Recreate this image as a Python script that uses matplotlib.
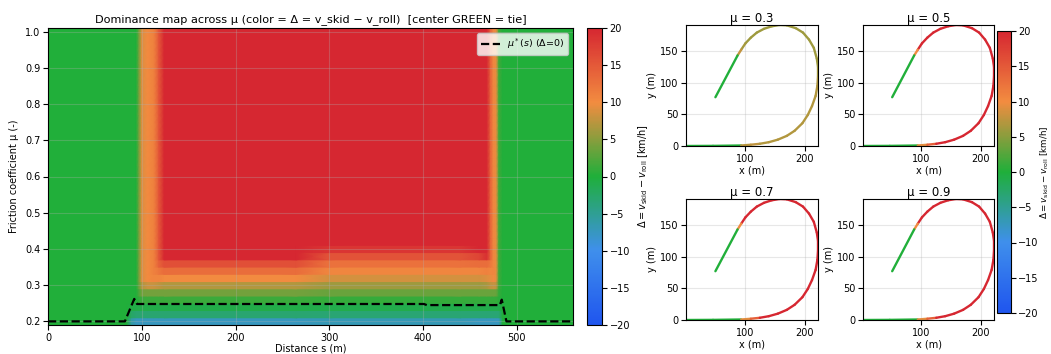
import numpy as np
import matplotlib
matplotlib.use("Agg")
import matplotlib.pyplot as plt
from matplotlib.colors import LinearSegmentedColormap, Normalize
from matplotlib.collections import LineCollection

# --- data --------------------------------------------------------------
# friction grid (rows of the map) and distance samples (columns)
mu_rows = np.round(np.arange(0.20, 1.001, 0.02), 2)
s_cols = [0, 84, 89, 94, 97, 100, 106, 113, 118, 124, 265, 300, 440, 460, 468, 472, 475, 478, 481, 485, 560]

# delta = v_skid - v_roll [km/h] for each mu row, sampled at s_cols
d_020 = [0, 0, -6, -7.5, -7.5, -7.5, -7.5, -7.5, -7.5, -7.5, -7.5, -7, -7, -7.5, -7.5, -7.5, -7.5, -7.5, -7.5, 0, 0]
d_022 = [0, 0, -2.5, -3, -3, -3, -3, -3, -3, -3, -3, -3.2, -3.2, -3.2, -3.2, -3.2, -3.2, -3.2, -3.2, 0, 0]
d_024 = [0, 0, -0.6, -0.8, -0.8, -0.8, -0.8, -0.8, -0.8, -0.8, -0.8, -1, -1, -1, -1, -1, -1, -1, -1, 0, 0]
d_026 = [0, 0, 0, 0, 0.8, 1.3, 1.3, 1.3, 1.3, 1.3, 1.3, 1, 1, 1, 1, 1, 1, 1, 0.5, 0, 0]
d_028 = [0, 0, 0, 0, 2, 4, 4, 4, 4, 4, 4, 3.5, 3.5, 3.5, 3.5, 3.5, 3.5, 3.5, 1, 0, 0]
d_030 = [0, 0, 0, 0, 3.5, 7, 8, 8, 7.5, 7, 7, 6, 6, 6, 6.5, 7.5, 8, 7.5, 1.5, 0, 0]
d_032 = [0, 0, 0, 0, 4, 9, 10, 10.5, 10.5, 10, 10, 8.5, 8.5, 8.5, 9, 9.5, 10, 9.5, 1.5, 0, 0]
d_034 = [0, 0, 0, 0, 4, 9, 10, 11, 12, 13, 13, 10.5, 10.5, 10.5, 11, 10.5, 10.5, 9.5, 1.5, 0, 0]
d_036 = [0, 0, 0, 0, 4, 9, 10, 11, 14, 16, 16, 12.5, 12.5, 13, 13, 12, 10.5, 9.5, 1.5, 0, 0]
d_038 = [0, 0, 0, 0, 4, 9, 10, 11, 15, 21, 21, 15.5, 15.5, 17, 19, 14, 10.5, 9.5, 1.5, 0, 0]
d_040 = [0, 0, 0, 0, 4, 9, 10, 11, 15, 22, 22, 18.5, 18.5, 22, 22, 14, 10.5, 9.5, 1.5, 0, 0]
d_high = [0, 0, 0, 0, 4, 9, 10, 11, 15, 22, 22, 22, 22, 22, 22, 14, 10.5, 9.5, 1.5, 0, 0]  # mu >= 0.42

delta = np.array([d_020, d_022, d_024, d_026, d_028, d_030, d_032, d_034, d_036, d_038, d_040]
                 + [d_high] * 30)

# tie boundary mu*(s)
mu_star_s = [0, 82, 92, 95, 401, 404, 482, 484, 489, 560]
mu_star = [0.2, 0.2, 0.262, 0.248, 0.248, 0.245, 0.245, 0.26, 0.2, 0.2]

# track layout (m)
track_x = [2, 47, 94, 110, 125, 140, 155, 170, 183, 196, 205, 212, 218, 221, 222, 222, 220, 215,
           207, 197, 185, 170, 158, 145, 132, 120, 110, 101, 94, 88, 51]
track_y = [0, 0.2, 0.8, 2, 3.5, 6, 10, 16, 24, 36, 49, 63, 79, 95, 110, 125, 138, 155,
           168, 179, 186, 190.5, 191, 189, 185, 179, 171, 162, 152, 143, 77]
panel_mu = [0.3, 0.5, 0.7, 0.9]

# --- colours ------------------------------------------------------------
cmap = LinearSegmentedColormap.from_list(
    "dom", ["#1f55ee", "#3f8fec", "#1faf3a", "#f28c40", "#d62731"])
norm = Normalize(-20, 20)

W, H = 1051, 354
fig = plt.figure(figsize=(W / 100, H / 100), dpi=100)
TICK = 7
LAB = 7

def box(x0, y0, x1, y1):
    return [x0 / W, 1 - y1 / H, (x1 - x0) / W, (y1 - y0) / H]

# --- dominance map --------------------------------------------------------
ax = fig.add_axes(box(48, 28, 573, 325))
# each mu row is a band of height 0.02; gouraud only blends along s
Y = np.round(np.repeat(mu_rows, 2) + np.tile([-0.01, 0.01], len(mu_rows)), 3)
C = np.repeat(delta, 2, axis=0)
mesh = ax.pcolormesh(s_cols, Y, C, shading="gouraud", cmap=cmap, norm=norm)
ax.plot(mu_star_s, mu_star, "k--", lw=1.6, label=r"$\mu^*(s)$ ($\Delta$=0)")
ax.set_xlim(0, 560)
ax.set_ylim(0.19, 1.01)
ax.grid(alpha=0.3)
ax.tick_params(labelsize=TICK, pad=2)
ax.set_xlabel("Distance s (m)", fontsize=LAB, labelpad=0.5)
ax.set_ylabel("Friction coefficient μ (-)", fontsize=LAB)
ax.set_title("Dominance map across μ (color = Δ = v_skid − v_roll)  [center GREEN = tie]",
             fontsize=8.1, pad=4)
ax.legend(loc="upper right", fontsize=6.8, framealpha=0.8)

cax = fig.add_axes(box(587, 28, 602, 325))
cb = fig.colorbar(mesh, cax=cax)
cb.ax.tick_params(labelsize=TICK, pad=2)
cb.set_label(r"$\Delta = v_{\rm skid} - v_{\rm roll}$ [km/h]", fontsize=LAB)

# --- track panels -----------------------------------------------------------
tx = np.array(track_x, dtype=float)
ty = np.array(track_y, dtype=float)
cum = np.concatenate([[0], np.cumsum(np.hypot(np.diff(tx), np.diff(ty)))])
# calibrate arc length so the curve entry/exit match the map's s axis
s_track = np.interp(cum, [0, cum[2], cum[-2], cum[-1]], [0, 94, 482, 560])
s_mid = 0.5 * (s_track[:-1] + s_track[1:])
pts = np.column_stack([tx, ty]).reshape(-1, 1, 2)
segs = np.concatenate([pts[:-1], pts[1:]], axis=1)

boxes = [box(686, 25, 818, 146), box(863, 25, 994, 146),
         box(686, 199, 818, 320), box(863, 199, 994, 320)]
for mu, b in zip(panel_mu, boxes):
    pa = fig.add_axes(b)
    row = delta[int(np.argmin(np.abs(mu_rows - mu)))]
    lc = LineCollection(segs, cmap=cmap, norm=norm, linewidths=1.7, capstyle="round")
    lc.set_array(np.interp(s_mid, s_cols, row))
    pa.add_collection(lc)
    pa.set_xlim(tx.min(), tx.max())
    pa.set_ylim(ty.min(), ty.max())
    pa.set_xticks([100, 200])
    pa.set_yticks([0, 50, 100, 150])
    pa.grid(alpha=0.3)
    pa.tick_params(labelsize=TICK, pad=2)
    pa.set_xlabel("x (m)", fontsize=LAB, labelpad=1)
    pa.set_ylabel("y (m)", fontsize=LAB, labelpad=2)
    pa.set_title(f"μ = {mu}", fontsize=8.5, pad=2)

cax2 = fig.add_axes(box(997, 31, 1011, 313))
cb2 = fig.colorbar(mesh, cax=cax2)
cb2.ax.tick_params(labelsize=TICK, pad=1.5)
cb2.set_label(r"$\Delta = v_{\rm skid} - v_{\rm roll}$ [km/h]", fontsize=6.3, labelpad=0)

fig.savefig("out.png", dpi=100)
